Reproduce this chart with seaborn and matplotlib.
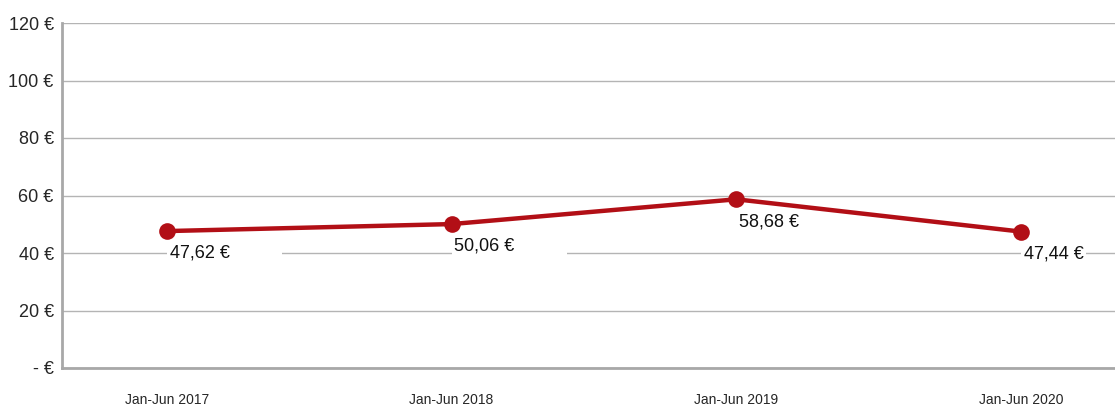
import numpy as np
import pandas as pd
import matplotlib
matplotlib.use("Agg")
import matplotlib.pyplot as plt
import seaborn as sns

# ---------------------- data ----------------------
periods = ["Jan-Jun 2017", "Jan-Jun 2018", "Jan-Jun 2019", "Jan-Jun 2020"]
values = [47.62, 50.06, 58.68, 47.44]
y_ticks = [0, 20, 40, 60, 80, 100, 120]

df = pd.DataFrame({"period": periods, "value": values})
df["x"] = np.arange(len(periods))

sns.set_style("white")
plt.rcParams["font.family"] = ["Liberation Sans", "DejaVu Sans"]

fig = plt.figure(figsize=(11.15, 4.09), dpi=100)
ax = fig.add_axes([62 / 1115, 41 / 409, 1 - 62 / 1115, (368 - 23) / 409])

red = "#B20F16"
sns.lineplot(data=df, x="x", y="value", ax=ax, color=red, linewidth=3.2,
             marker="o", markersize=12, markeredgewidth=0, zorder=3)

# data labels (white box hides the gridline under them, wider on the right)
# drawn under the line but over the grid
for i, (xi, v) in enumerate(zip(df["x"], df["value"])):
    lbl = f"{v:.2f}".replace(".", ",") + " €"
    if i < len(values) - 1:
        lbl += "          "
    ax.annotate(lbl, (xi, v), xytext=(2, -10), textcoords="offset points",
                ha="left", va="top", fontsize=13, color="#111111",
                bbox=dict(boxstyle="square,pad=0.15", fc="white", ec="none"),
                zorder=2)

ax.set_xlim(-0.368, 3.33)
ax.set_ylim(0, 120)
ax.set_yticks(y_ticks)
ax.set_yticklabels(["- €" if t == 0 else f"{t} €" for t in y_ticks], fontsize=13)
ax.set_xticks(df["x"])
ax.set_xticklabels(periods, fontsize=10)
ax.set_xlabel("")
ax.set_ylabel("")

ax.grid(axis="y", color="#B4B4B4", linewidth=1)
ax.set_axisbelow(True)
for s in ["top", "right"]:
    ax.spines[s].set_visible(False)
for s in ["left", "bottom"]:
    ax.spines[s].set_color("#A8A8A8")
    ax.spines[s].set_linewidth(2)
ax.tick_params(axis="y", length=4, color="#A8A8A8", pad=2)
ax.tick_params(axis="x", length=0, pad=18)

plt.savefig("out.png", dpi=100)
